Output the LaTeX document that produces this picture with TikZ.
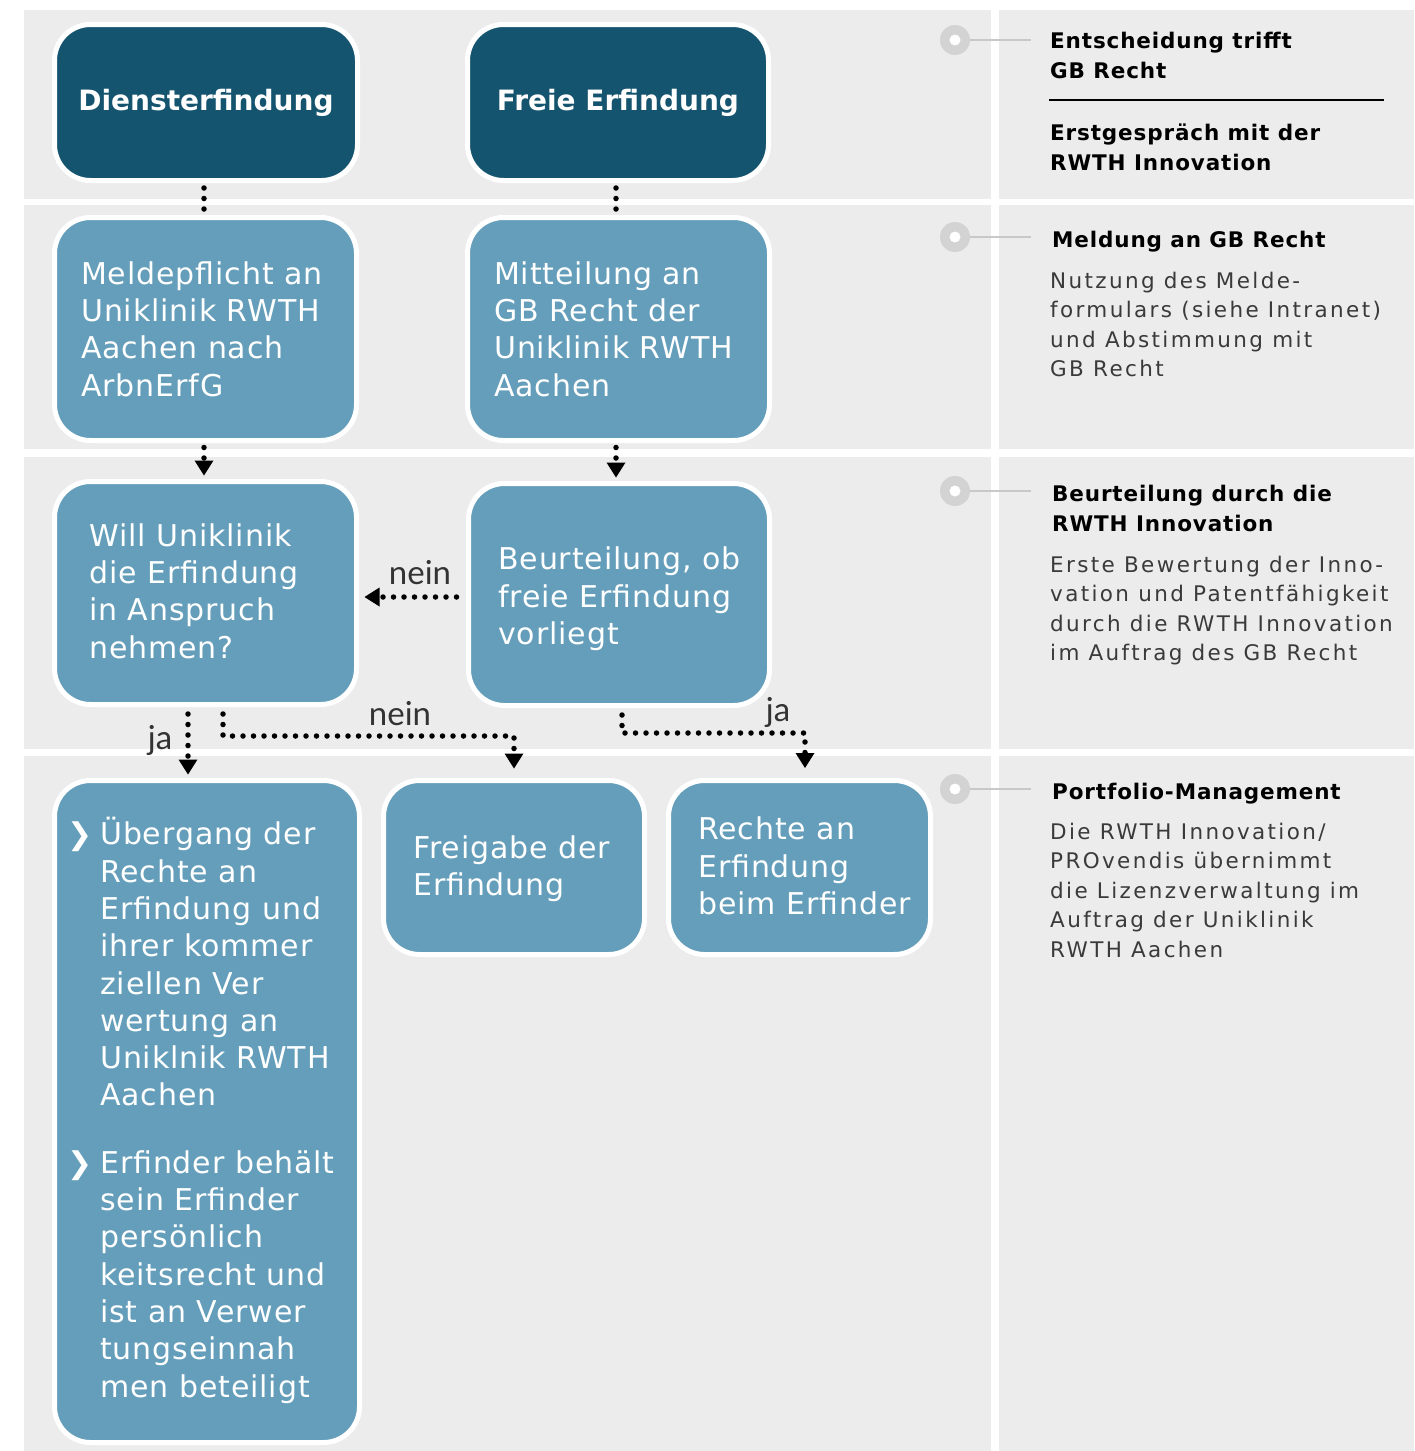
\documentclass[tikz,border=0pt]{standalone}
\usepackage{fontspec}
\setmainfont{DejaVu Sans}
\newfontfamily\boxfont[LetterSpace=3]{DejaVu Sans}
\newfontfamily\sidefont[LetterSpace=11]{DejaVu Sans}
\newfontfamily\sidehead[LetterSpace=4]{DejaVu Sans}
\newfontfamily\labfont{Lato}
\usetikzlibrary{arrows.meta}
\definecolor{dark}{HTML}{15546F}
\definecolor{light}{HTML}{649EBA}
\definecolor{bg}{HTML}{ECECEC}
\definecolor{circgrey}{HTML}{D3D3D3}
\definecolor{linegrey}{HTML}{C8C8C8}
\definecolor{bodygrey}{HTML}{3A3A3A}
\newcommand{\chevbullet}{\llap{{\bfseries\fontsize{30}{30}\selectfont ❯}\hspace{8pt}}}
\tikzset{
  darkbox/.style={rectangle, rounded corners=36pt, fill=dark, draw=white, line width=5pt,
    text=white, inner sep=0pt, font=\fontsize{28}{34}\selectfont\bfseries},
  lightbox/.style={rectangle, rounded corners=36pt, fill=light, draw=white, line width=5pt, inner sep=0pt},
  boxtext/.style={anchor=base west, align=left, text=white, inner sep=0pt,
    font=\boxfont\fontsize{30}{37.3}\selectfont},
  dotline/.style={draw=black, line width=5.5pt, line cap=round, dash pattern=on 0pt off 10.5pt},
  tipped/.style={-{Triangle[width=19pt,length=15pt,line width=0pt]}},
  lab/.style={inner sep=0pt, text=black!80, font=\labfont\fontsize{33}{33}\selectfont},
  sidehd/.style={anchor=base west, align=left, inner sep=0pt, text=black,
    font=\sidehead\bfseries\fontsize{21.5}{30}\selectfont},
  sidebody/.style={anchor=base west, align=left, inner sep=0pt, text=bodygrey,
    font=\sidefont\fontsize{21.5}{29.5}\selectfont},
  circnode/.style={circle, fill=circgrey, minimum size=30pt, inner sep=0pt},
  connline/.style={draw=linegrey, line width=2pt}
}
\begin{document}
\begin{tikzpicture}[x=1pt,y=-1pt]
\useasboundingbox (0,0) rectangle (1414,1451);
\fill[white] (0,0) rectangle (1414,1451);
% background panels
\foreach \ya/\yb in {10/199,205/449,457/749,756/1451}{
  \fill[bg] (24,\ya) rectangle (991,\yb);
  \fill[bg] (999,\ya) rectangle (1414,\yb);
}
% boxes
\node[darkbox, minimum width=303pt, minimum height=156pt] (dienst) at (206,102.5) {Diensterfindung};
\node[darkbox, minimum width=301pt, minimum height=156pt] (freie) at (618,102.5) {Freie Erfindung};
\node[lightbox, minimum width=302pt, minimum height=223pt] (meld) at (205.5,329) {};
\node[lightbox, minimum width=302pt, minimum height=223pt] (mitt) at (618.5,329) {};
\node[lightbox, minimum width=302pt, minimum height=223pt] (will) at (205.5,593) {};
\node[lightbox, minimum width=301pt, minimum height=222pt] (beurt) at (619,594.5) {};
\node[lightbox, minimum width=305pt, minimum height=662pt] (ueber) at (207,1111.5) {};
\node[lightbox, minimum width=261pt, minimum height=174pt] (freig) at (514,867.5) {};
\node[lightbox, minimum width=262pt, minimum height=174pt] (rechte) at (799.5,867.5) {};
% box texts (anchored at the baseline of their last line)
\node[boxtext] (meldT) at (81,396) {Meldepflicht an\\Uniklinik RWTH\\Aachen nach\\ArbnErfG};
\node[boxtext] (mittT) at (494,396) {Mitteilung an\\GB Recht der\\Uniklinik RWTH\\Aachen};
\node[boxtext] (willT) at (89,658) {Will Uniklinik\\die Erfindung\\in Anspruch\\nehmen?};
\node[boxtext] (beurtT) at (498,644.5) {Beurteilung, ob\\freie Erfindung\\vorliegt};
\node[boxtext] (freigT) at (413,895.5) {Freigabe der\\Erfindung};
\node[boxtext] (rechteT) at (698,914.5) {Rechte an\\Erfindung\\beim Erfinder};
\node[boxtext] (ueberT) at (100,1397) {\chevbullet Übergang der\\Rechte an\\Erfindung und\\ihrer kommer\\ziellen Ver\\wertung an\\Uniklnik RWTH\\Aachen\\[30pt]\chevbullet Erfinder behält\\sein Erfinder\\persönlich\\keitsrecht und\\ist an Verwer\\tungseinnah\\men beteiligt};
% connectors
\draw[dotline, shorten <=5pt, shorten >=4pt] (dienst.south -| 204,0) -- (meld.north -| 204,0);
\draw[dotline, shorten <=5pt, shorten >=4pt] (freie.south -| 616,0) -- (mitt.north -| 616,0);
\draw[dotline, tipped, shorten <=4.5pt, shorten >=3.5pt] (meld.south -| 204,0) -- (will.north -| 204,0);
\draw[dotline, tipped, shorten <=4.5pt, shorten >=3.5pt] (mitt.south -| 616,0) -- (beurt.north -| 616,0);
\draw[dotline, tipped, shorten <=9.5pt, shorten >=5.5pt] (beurt.west |- 0,597) -- (will.east |- 0,597);
\draw[dotline, tipped, shorten <=7pt, shorten >=3.5pt] (will.south -| 188,0) -- (ueber.north -| 188,0);
\draw[dotline, tipped, shorten <=7pt, shorten >=9.5pt] (will.south -| 223,0) |- (514,736) -- (freig.north -| 514,0);
\draw[dotline, tipped, shorten <=7pt, shorten >=10pt] (beurt.south -| 622,0) |- (805,733) -- (rechte.north -| 805,0);
% labels
\node[lab] (l1) at (420,573) {nein};
\node[lab] (l2) at (400,714) {nein};
\node[lab] (l3) at (160,740) {ja};
\node[lab] (l4) at (778,712) {ja};
% side column markers
\foreach \n/\y in {1/40,2/237,3/491,4/789}{
  \node[circnode] (c\n) at (955,\y) {};
  \fill[white] (c\n) circle (5.5);
  \coordinate (e\n) at (1031,\y);
  \draw[connline] (c\n.east) -- (e\n);
}
% side texts (anchored at the baseline of their last line)
\node[sidehd] (h1) at (1050,78) {Entscheidung trifft\\GB Recht};
\draw[line width=1.3pt] (1049,100) -- (1384,100);
\node[sidehd] (h1b) at (1050,170) {Erstgespräch mit der\\RWTH Innovation};
\node[sidehd] (h2) at (1052,247) {Meldung an GB Recht};
\node[sidebody] (b2) at (1050,376.5) {Nutzung des Melde-\\formulars (siehe Intranet)\\und Abstimmung mit\\GB Recht};
\node[sidehd] (h3) at (1052,531) {Beurteilung durch die\\RWTH Innovation};
\node[sidebody] (b3) at (1050,660.5) {Erste Bewertung der Inno-\\vation und Patentfähigkeit\\durch die RWTH Innovation\\im Auftrag des GB Recht};
\node[sidehd] (h4) at (1052,799) {Portfolio-Management};
\node[sidebody] (b4) at (1050,957) {Die RWTH Innovation/\\PROvendis übernimmt\\die Lizenzverwaltung im\\Auftrag der Uniklinik\\RWTH Aachen};
\end{tikzpicture}
\end{document}
